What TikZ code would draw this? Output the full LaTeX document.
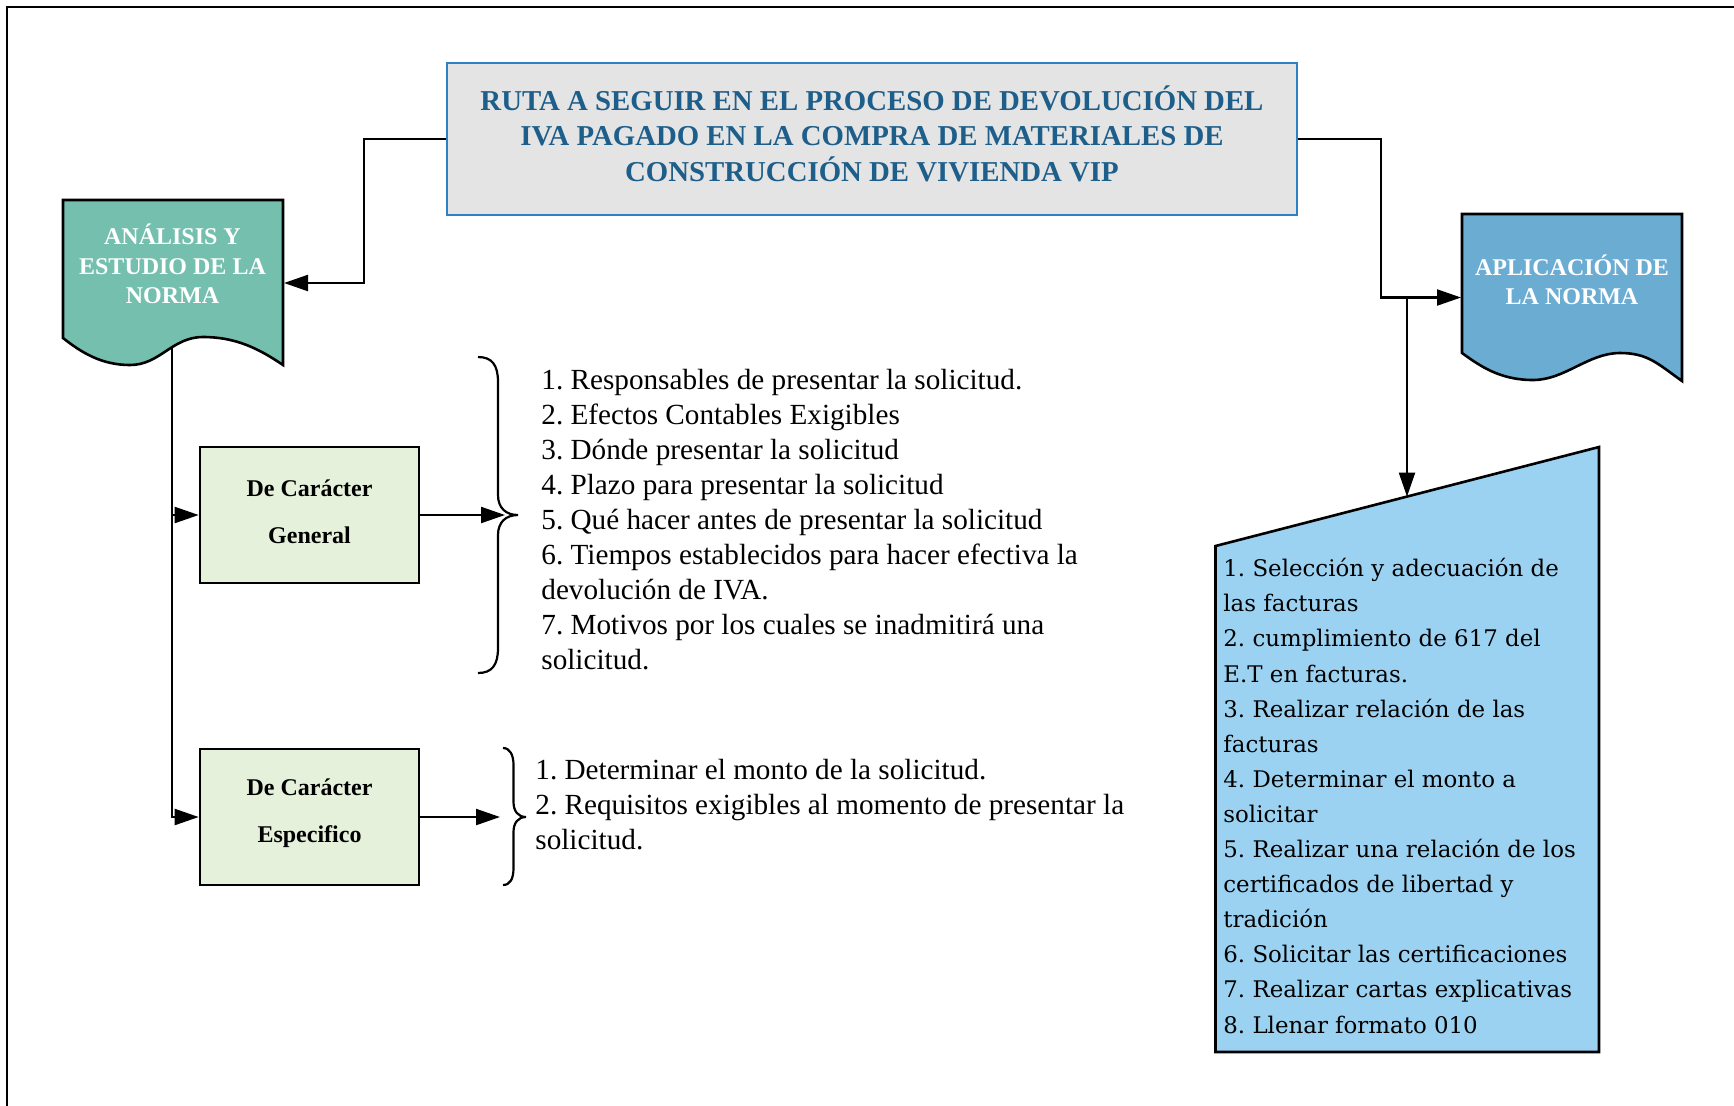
\documentclass[tikz,border=0pt]{standalone}
\usepackage{fontspec}
\setmainfont{Liberation Serif}
\newfontfamily\rightfont{DejaVu Serif}
\usetikzlibrary{arrows.meta,calc}
\definecolor{titlefill}{HTML}{E4E4E4}
\definecolor{titleborder}{HTML}{2A82C4}
\definecolor{titletext}{HTML}{1D5E8A}
\definecolor{tealfill}{HTML}{75BFAF}
\definecolor{bluefill}{HTML}{6BACD3}
\definecolor{greenfill}{HTML}{E5F1DA}
\definecolor{skyfill}{HTML}{9CD2F1}
\frenchspacing
\begin{document}
\frenchspacing
\begin{tikzpicture}[x=0.5pt,y=-0.5pt,
  conn/.style={line width=1.1pt},
  arr/.style={conn,-{Triangle[length=12pt,width=8pt]}},
  catbox/.style={draw=black,line width=1.3pt,fill=greenfill,minimum width=109.5pt,minimum height=68pt,inner sep=0pt,align=center},
  cattext/.style={align=center,inner sep=0pt,font=\bfseries\fontsize{12}{23.5}\selectfont},
  listtext/.style={anchor=north west,inner sep=0pt,align=left,font=\fontsize{14.6}{17.55}\selectfont},
  bracepath/.style={line width=1.1pt},
  doctext/.style={text=white,align=center,font=\bfseries\fontsize{12}{14.65}\selectfont},
  shapeline/.style={draw=black,line width=1.3pt}]
\useasboundingbox (0,0) rectangle (1734,1105);
\clip (0,0) rectangle (1734,1105);
% outer frame
\draw[line width=1.3pt] (7,7) rectangle (1760,1130);

% title
\node[draw=titleborder,line width=1.2pt,fill=titlefill,minimum width=425pt,minimum height=76pt] (title) at (872,139) {};
\node[align=center,text=titletext,font=\bfseries\fontsize{14.4}{17.7}\selectfont] (titleT) at (872,133.5)
  {RUTA A SEGUIR EN EL PROCESO DE DEVOLUCIÓN DEL\\IVA PAGADO EN LA COMPRA DE MATERIALES DE\\CONSTRUCCIÓN DE VIVIENDA VIP};

% document shapes
\draw[shapeline,fill=tealfill] (63,200) -- (283,200) -- (283,365) .. controls (258,348) and (235,337) .. (203,337) .. controls (172,337) and (160,365) .. (130,365) .. controls (102,365) and (82,353) .. (63,338) -- cycle;
\draw[shapeline,fill=bluefill] (1462,214) -- (1682,214) -- (1682,381) .. controls (1658,364) and (1648,353) .. (1620,353) .. controls (1588,353) and (1565,380) .. (1533,380) .. controls (1500,380) and (1480,366) .. (1462,353) -- cycle;
% manual input shape
\draw[shapeline,fill=skyfill] (1215.5,546) -- (1599,447) -- (1599,1052) -- (1215.5,1052) -- cycle;

\node[doctext] (anaT) at (172.5,264) {ANÁLISIS Y\\ESTUDIO DE LA\\NORMA};
\node[doctext] (aplT) at (1572,280) {APLICACIÓN DE\\LA NORMA};

% category boxes
\node[catbox] (gen) at (309.5,515) {};
\node[cattext] (genT) at (309.5,511.5) {De Carácter\\General};
\node[catbox] (esp) at (309.5,817) {};
\node[cattext] (espT) at (309.5,813.5) {De Carácter\\Especifico};

% connector end points
\coordinate (anaE) at (284,283);
\coordinate (anaB) at (172,347);
\coordinate (aplW) at (1461,297.5);
\coordinate (split) at (1407,297.5);
\coordinate (manT) at (1407,496.6);
\coordinate (b1) at (505,515);
\coordinate (b2) at (500,817);

% connectors
\draw[arr] (title.west) -- ++(-82,0) |- (anaE);
\draw[arr] (title.east) -- ++(83,0) |- (aplW);
\draw[arr] (split) -- (manT);
\draw[arr] (anaB) |- (esp.west);
\draw[arr] (anaB |- gen.west) -- (gen.west);
\draw[arr] (gen.east) -- (b1);
\draw[arr] (esp.east) -- (b2);

% braces
\draw[bracepath] (478,357) .. controls (492,357) and (498,365) .. (498,382) -- (498,495) .. controls (498,508) and (506,515) .. (518,515) .. controls (506,515) and (498,522) .. (498,535) -- (498,648) .. controls (498,665) and (492,673) .. (478,673);
\draw[bracepath] (503,748) .. controls (510,748) and (513.5,755) .. (513.5,765) -- (513.5,802) .. controls (513.5,811) and (518,817) .. (526,817) .. controls (518,817) and (513.5,823) .. (513.5,832) -- (513.5,868) .. controls (513.5,879) and (510,885) .. (503,885);

% lists
\node[listtext] (list1) at (541,368.5) {1. Responsables de presentar la solicitud.\\2. Efectos Contables Exigibles\\3. Dónde presentar la solicitud\\4. Plazo para presentar la solicitud\\5. Qué hacer antes de presentar la solicitud\\6. Tiempos establecidos para hacer efectiva la\\devolución de IVA.\\7. Motivos por los cuales se inadmitirá una\\solicitud.};
\node[listtext] (list2) at (535,759) {1. Determinar el monto de la solicitud.\\2. Requisitos exigibles al momento de presentar la\\solicitud.};
\node[listtext,font=\rightfont\fontsize{11.45}{17.55}\selectfont] (list3) at (1223,558) {1. Selección y adecuación de\\las facturas\\2. cumplimiento de 617 del\\E.T en facturas.\\3. Realizar relación de las\\facturas\\4. Determinar el monto a\\solicitar\\5. Realizar una relación de los\\certificados de libertad y\\tradición\\6. Solicitar las certificaciones\\7. Realizar cartas explicativas\\8. Llenar formato 010};
\end{tikzpicture}
\end{document}
